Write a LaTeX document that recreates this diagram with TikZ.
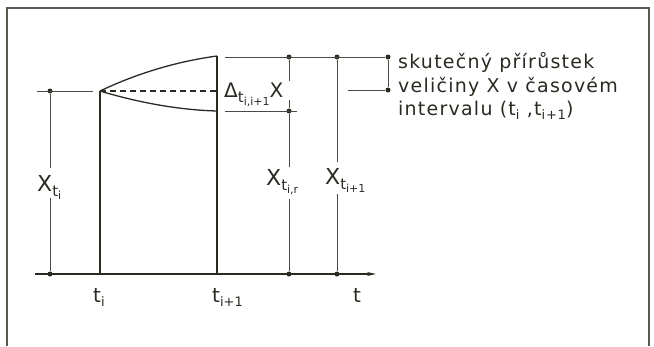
\documentclass[tikz,border=0pt]{standalone}
\usepackage{fontspec}
\setmainfont{DejaVu Sans}
\newfontfamily\wide[LetterSpace=6.5]{DejaVu Sans}
\usetikzlibrary{arrows.meta}
\definecolor{ink}{RGB}{42,42,34}
\definecolor{frm}{RGB}{90,90,80}
\newcommand\subA[1]{\raisebox{-5pt}{\fontsize{15}{15}\selectfont #1}}
\newcommand\subB[1]{\raisebox{-3pt}{\fontsize{11}{11}\selectfont #1}}
\newcommand\subC[1]{\raisebox{-4pt}{\fontsize{13}{13}\selectfont #1}}
\begin{document}
\begin{tikzpicture}[x=1pt,y=-1pt,
  thinline/.style={draw=ink!85,line width=0.8pt},
  heavy/.style={draw=ink,line width=1.8pt},
  curveline/.style={draw=ink,line width=1.3pt},
  dashline/.style={draw=ink,line width=1.1pt,dash pattern=on 6pt off 4pt},
  dotnode/.style={circle,fill=ink,inner sep=0pt,minimum size=5pt},
  bigl/.style={inner sep=0pt,anchor=base west,text=ink,font=\fontsize{22}{26}\selectfont},
  midl/.style={inner sep=0pt,anchor=base west,text=ink,font=\fontsize{20}{24}\selectfont},
  txt/.style={inner sep=0pt,anchor=base west,text=ink,font=\wide\fontsize{19}{23.5}\selectfont}]
\useasboundingbox (0,0) rectangle (654,346);
% frame
\draw[draw=frm,line width=1.5pt] (7,346) -- (7,8) -- (649,8) -- (649,346);
% dots
\node[dotnode] (A1) at (50,91) {};
\node[dotnode] (A3) at (50,274) {};
\node[dotnode] (B1) at (289,57) {};
\node[dotnode] (B2) at (289,111) {};
\node[dotnode] (B3) at (289,274) {};
\node[dotnode] (C1) at (337,57) {};
\node[dotnode] (C3) at (337,274) {};
\node[dotnode] (D1) at (388,57) {};
\node[dotnode] (D2) at (388,90) {};
% coordinates
\coordinate (L0) at (37,91);
\coordinate (L1) at (93,91);
\coordinate (P) at (100,91);
\coordinate (Pb) at (100,274);
\coordinate (Q) at (217,56);
\coordinate (Qm) at (217,91);
\coordinate (Qr) at (217,111);
\coordinate (Qb) at (217,274);
\coordinate (T0) at (225,57);
\coordinate (R0) at (225,111);
\coordinate (R1) at (297,111);
\coordinate (E0) at (348,90);
\coordinate (ax0) at (35,274);
\coordinate (ax1) at (376,274);
% gaps
\coordinate (A1g) at (50,168);
\coordinate (A3g) at (50,198);
\coordinate (B1g) at (289,81);
\coordinate (B2u) at (289,100);
\coordinate (B2g) at (289,167);
\coordinate (B3g) at (289,199);
\coordinate (C1g) at (337,162);
\coordinate (C3g) at (337,194);
% axis
\draw[draw=ink,line width=1.3pt,-{Stealth[length=9pt,width=4pt]}] (ax0) -- (ax1);
% main verticals
\draw[heavy] (P) -- (Pb);
\draw[heavy] (Q) -- (Qb);
% curves
\draw[curveline] (P) .. controls (140,72) and (180,61) .. (Q);
\draw[curveline] (P) .. controls (140,103) and (180,110) .. (Qr);
\draw[dashline] (P) -- (Qm);
% thin lines
\draw[thinline] (L0) -- (L1);
\draw[thinline] (T0) -- (D1);
\draw[thinline] (R0) -- (R1);
\draw[thinline] (E0) -- (D2);
\draw[thinline] (D1) -- (D2);
\draw[thinline] (A1) -- (A1g);
\draw[thinline] (A3g) -- (A3);
\draw[thinline] (B1) -- (B1g);
\draw[thinline] (B2u) -- (B2);
\draw[thinline] (B2) -- (B2g);
\draw[thinline] (B3g) -- (B3);
\draw[thinline] (C1) -- (C1g);
\draw[thinline] (C3g) -- (C3);
% labels
\node[bigl] (xti) at (37,191) {X\subA{t\subB{i}}};
\node[bigl] (xtir) at (266,185) {X\subA{t\subB{i,r}}};
\node[bigl] (xti1) at (325,184) {X\subA{t\subB{i+1}}};
\node[midl] (dlt) at (224,97) {Δ\subA{t\subB{i,i+1}}X};
\node[midl] (lti) at (93,302) {t\subC{i}};
\node[midl] (lti1) at (212,302) {t\subC{i+1}};
\node[midl] (lt) at (353,302) {t};
\node[txt] (desc1) at (398,68) {skutečný přírůstek};
\node[txt] (desc2) at (398,92) {veličiny X v časovém};
\node[txt] (desc3) at (398,115) {intervalu (t\subC{i} ,t\subC{i+1})};
\end{tikzpicture}
\end{document}
